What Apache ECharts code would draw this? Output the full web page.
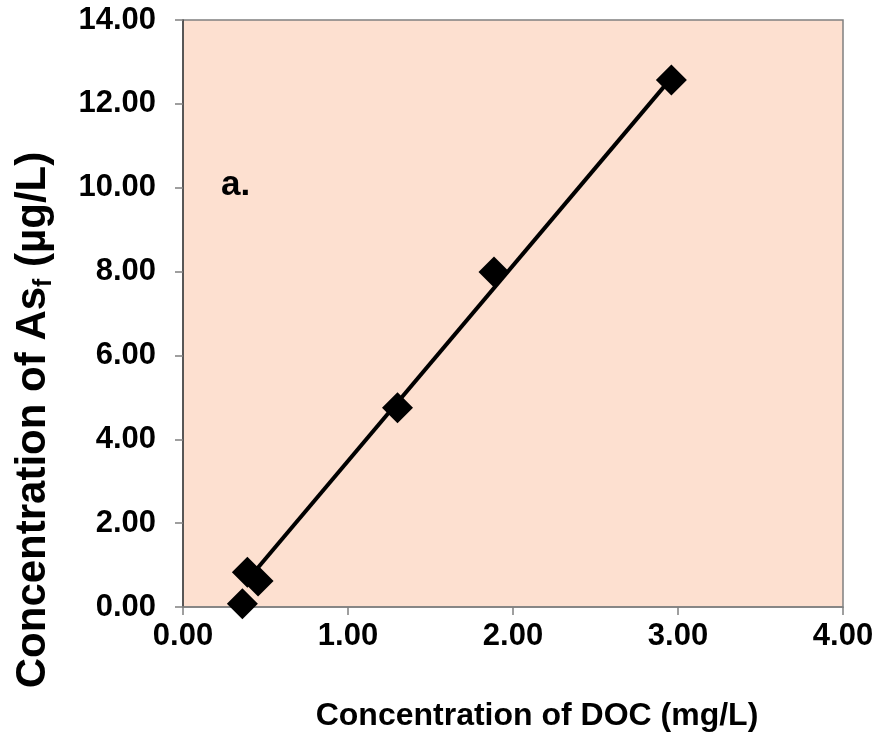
<!DOCTYPE html>
<html>
<head>
<meta charset="utf-8">
<script src="https://cdn.jsdelivr.net/npm/echarts@6/dist/echarts.min.js"></script>
<style>
  html, body { margin: 0; padding: 0; background: #fff; }
  #chart { width: 879px; height: 732px; }
</style>
</head>
<body>
<div id="chart"></div>
<script>
// DOC concentration (mg/L) and filtered arsenic concentration (µg/L)
const docValues = [0.36, 0.39, 0.455, 1.30, 1.885, 2.96];
const asfValues = [0.08, 0.83, 0.62, 4.75, 7.99, 12.57];

// Linear trendline end points
const trendX = [0.45, 2.96];
const trendY = [0.92, 12.62];

// Axis ranges and tick spacing
const xTicks = { min: 0, max: 4, step: 1 };
const yTicks = { min: 0, max: 14, step: 2 };

const FONT = '"Liberation Sans", Arial, sans-serif';

const chart = echarts.init(document.getElementById('chart'), null, { renderer: 'canvas' });

const labelStyle = {
  fontFamily: FONT,
  fontWeight: 'bold',
  fontSize: 31,
  color: '#000',
  formatter: v => v.toFixed(2)
};

chart.setOption({
  animation: false,
  backgroundColor: '#ffffff',
  grid: {
    left: 183, right: 36, top: 20, bottom: 125,
    show: true,
    backgroundColor: '#FDE0D0',
    borderColor: '#808080',
    borderWidth: 1.5
  },
  xAxis: {
    type: 'value',
    min: xTicks.min, max: xTicks.max, interval: xTicks.step,
    axisLine: { show: true, onZero: false, lineStyle: { color: '#808080', width: 1.5 } },
    axisTick: { show: true, inside: false, length: 8, lineStyle: { color: '#808080', width: 1.5 } },
    splitLine: { show: false },
    axisLabel: Object.assign({ margin: 14 }, labelStyle)
  },
  yAxis: {
    type: 'value',
    min: yTicks.min, max: yTicks.max, interval: yTicks.step,
    axisLine: { show: true, onZero: false, lineStyle: { color: '#404040', width: 1.5 } },
    axisTick: { show: true, inside: false, length: 8, lineStyle: { color: '#808080', width: 1.5 } },
    splitLine: { show: false },
    axisLabel: Object.assign({ margin: 27 }, labelStyle)
  },
  series: [
    {
      name: 'Trend',
      type: 'line',
      data: trendX.map((x, i) => [x, trendY[i]]),
      showSymbol: false,
      symbol: 'none',
      lineStyle: { color: '#000', width: 4 },
      z: 2
    },
    {
      name: 'Asf vs DOC',
      type: 'scatter',
      data: docValues.map((x, i) => [x, asfValues[i]]),
      symbol: 'diamond',
      symbolSize: 31,
      itemStyle: { color: '#000', opacity: 1 },
      z: 3
    }
  ],
  graphic: [
    {
      type: 'text',
      left: 221, top: 168,
      style: { text: 'a.', font: 'bold 35px ' + FONT, fill: '#000' }
    },
    {
      type: 'text',
      x: 537, y: 716,
      style: {
        text: 'Concentration of DOC (mg/L)',
        font: 'bold 32px ' + FONT, fill: '#000',
        align: 'center', verticalAlign: 'middle'
      }
    },
    {
      type: 'text',
      x: 33, y: 420,
      rotation: Math.PI / 2,
      style: {
        text: '{a|Concentration of As}{s|f}{a| (µg/L)}',
        align: 'center', verticalAlign: 'middle',
        fill: '#000',
        rich: {
          a: { fontFamily: FONT, fontWeight: 'bold', fontSize: 42, lineHeight: 48, fill: '#000' },
          s: { fontFamily: FONT, fontWeight: 'bold', fontSize: 25, lineHeight: 48, verticalAlign: 'bottom', padding: [12, 0, 0, 0], fill: '#000' }
        }
      }
    }
  ]
});
</script>
</body>
</html>
